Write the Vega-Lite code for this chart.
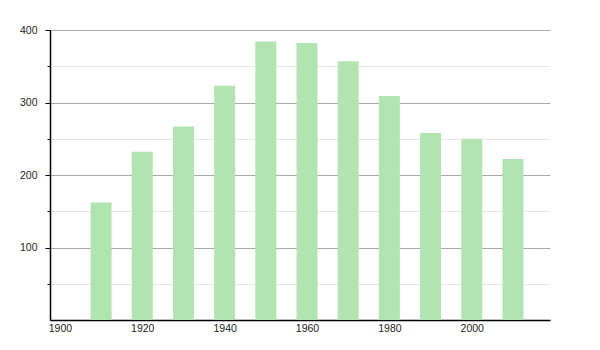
{
  "$schema": "https://vega.github.io/schema/vega-lite/v6.json",
  "width": 500,
  "height": 290,
  "autosize": "none",
  "padding": {"left": 50, "top": 30, "right": 50, "bottom": 30},
  "background": "white",
  "config": {"view": {"stroke": null}, "font": "Liberation Sans"},
  "data": {"values": [
    {"year": 1910, "pop": 162},
    {"year": 1920, "pop": 232},
    {"year": 1930, "pop": 267},
    {"year": 1940, "pop": 323},
    {"year": 1950, "pop": 384},
    {"year": 1960, "pop": 382},
    {"year": 1970, "pop": 357},
    {"year": 1980, "pop": 309},
    {"year": 1990, "pop": 258},
    {"year": 2000, "pop": 250},
    {"year": 2010, "pop": 222}
  ]},
  "mark": {"type": "bar", "width": 21, "color": "#b2e4b2"},
  "encoding": {
    "x": {
      "field": "year", "type": "quantitative",
      "scale": {"domain": [1897.6, 2019], "nice": false, "zero": false, "padding": 0},
      "axis": {
        "title": null, "values": [1900, 1920, 1940, 1960, 1980, 2000],
        "format": "d", "ticks": false, "grid": false,
        "domainColor": "#000", "domainWidth": 1.5,
        "labelColor": "#222", "labelFontSize": 10.5, "labelPadding": 3,
        "labelFlush": false
      }
    },
    "y": {
      "field": "pop", "type": "quantitative",
      "scale": {"domain": [0, 400], "nice": false, "padding": 0},
      "axis": {
        "title": null,
        "values": [50, 100, 150, 200, 250, 300, 350, 400],
        "labelExpr": "datum.value % 100 === 0 ? datum.label : ''",
        "grid": true,
        "gridColor": {"condition": {"test": "datum.value % 100 === 0", "value": "#aaaaaa"}, "value": "#e6e6e6"},
        "tickSize": {"condition": {"test": "datum.value % 100 === 0", "value": 5}, "value": 3},
        "tickColor": "#000",
        "domainColor": "#000", "domainWidth": 1.5,
        "labelColor": "#222", "labelFontSize": 10.5, "labelPadding": 8
      }
    }
  }
}
